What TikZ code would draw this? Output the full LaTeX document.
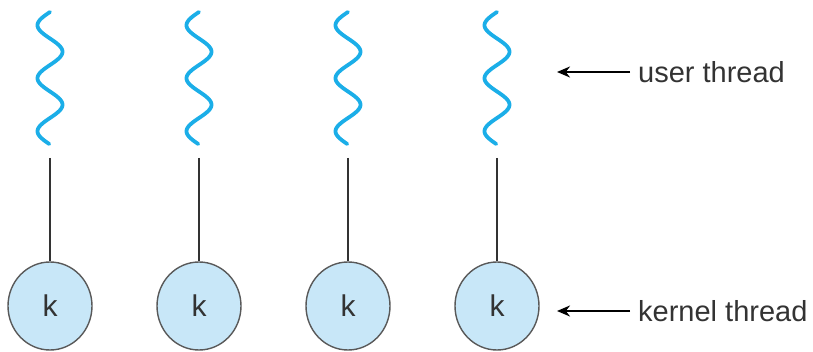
\documentclass[tikz,border=0pt]{standalone}
\usepackage{fontspec}
\setmainfont{Liberation Sans}
\usetikzlibrary{shapes.geometric, arrows.meta}

\definecolor{wavecol}{HTML}{1BAEE8}
\definecolor{kfill}{HTML}{C8E7F8}
\definecolor{textcol}{HTML}{333333}

\begin{document}
\begin{tikzpicture}[x=1pt, y=-1pt, >={Stealth[length=13pt, width=11pt]},
    user/.style={wavecol, line width=3.8pt, line cap=round},
    kthread/.style={ellipse, draw=black!65, line width=1.4pt, fill=kfill,
      minimum width=84pt, minimum height=88pt, inner sep=0pt,
      text=textcol, font=\fontsize{30}{36}\selectfont},
    link/.style={black!80, line width=2pt},
    label/.style={anchor=west, inner sep=0pt, text=textcol,
      font=\fontsize{29}{35}\selectfont}]
  \useasboundingbox (0,0) rectangle (813,352);

  % User threads, each bound to one kernel thread
  \foreach \i/\cx in {1/50, 2/199, 3/348, 4/497} {
    \draw[user] plot[variable=\t, domain=0:132, samples=120, smooth]
      ({\cx - 12.5*sin(\t/53*360)}, {12+\t});
    \coordinate (u\i) at (\cx, 158);
    \node[kthread] (k\i) at (\cx, 306) {k};
    \draw[link] (u\i) -- (k\i.north);
  }

  % Labels
  \node[label] (ulabel) at (638, 72) {user thread};
  \node[label] (klabel) at (638, 311) {kernel thread};
  \coordinate (uend) at (557, 72);
  \coordinate (kend) at (557, 311);
  \draw[->, line width=2.4pt] ([xshift=-8pt]ulabel.west) -- (uend);
  \draw[->, line width=2.4pt] ([xshift=-8pt]klabel.west) -- (kend);
\end{tikzpicture}
\end{document}
